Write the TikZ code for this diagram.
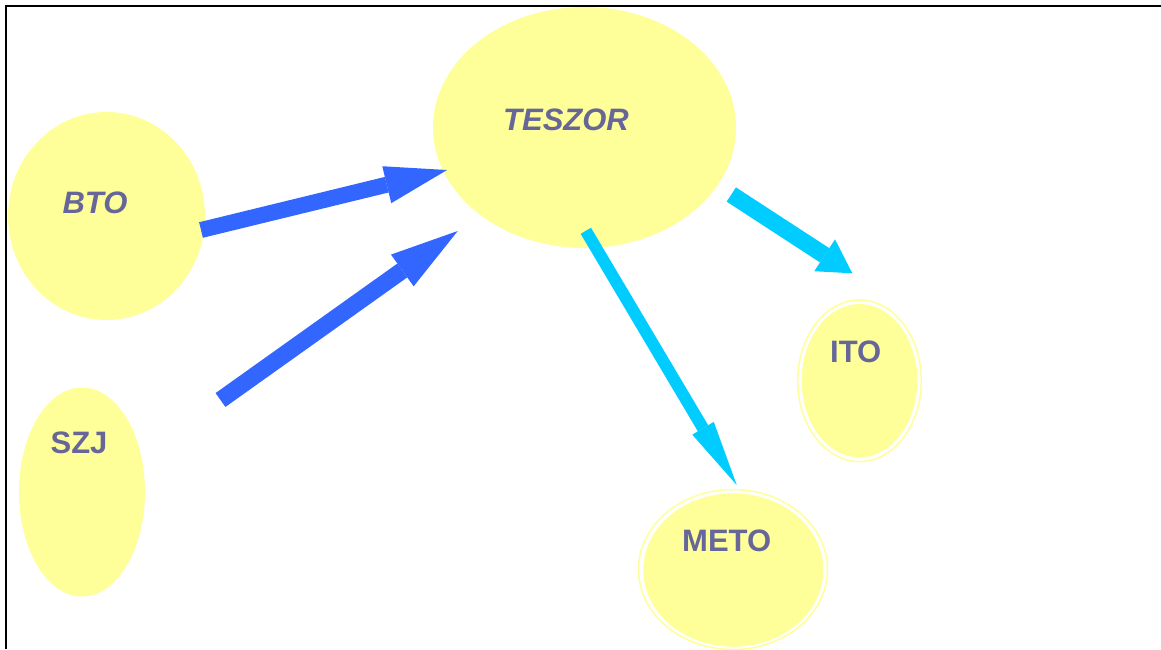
\documentclass[tikz,border=0pt]{standalone}
\usepackage{fontspec}
\setmainfont{Liberation Sans}
\usetikzlibrary{shapes.geometric,arrows.meta}
\definecolor{blobfill}{HTML}{FFFF99}
\definecolor{labtext}{HTML}{666699}
\definecolor{arrblue}{HTML}{3366FF}
\definecolor{arrcyan}{HTML}{00CCFF}
\tikzset{
  blob/.style={ellipse, fill=blobfill, inner sep=0pt, draw=none},
  ring/.style={ellipse, draw=blobfill, line width=1.5pt, inner sep=0pt, fill=none},
  lab/.style={inner sep=0pt, text=labtext, font=\fontsize{31}{31}\selectfont\bfseries},
  ilab/.style={lab, font=\fontsize{31}{31}\selectfont\bfseries\itshape},
  bluearr/.style={draw=arrblue, line width=#1},
  cyanarr/.style={draw=arrcyan, line width=#1},
}
\begin{document}
\begin{tikzpicture}[x=1pt,y=-1pt]
\useasboundingbox (0,0) rectangle (1161,649);
\fill[white] (0,0) rectangle (1161,649);
% frame (top and left edges only visible)
\draw[black, line width=2.2pt] (6,649) -- (6,6) -- (1161,6);

% ellipses
\node[blob, minimum width=303pt, minimum height=241pt] (teszor) at (584.5,127.5) {};
\node[blob, minimum width=197pt, minimum height=208pt] (bto) at (106.5,216) {};
\node[blob, minimum width=126pt, minimum height=209pt] (szj) at (82,492) {};
\node[ring, minimum width=123.6pt, minimum height=161.6pt] (itoring) at (859.5,380.8) {};
\node[blob, minimum width=115.6pt, minimum height=153.4pt] (ito) at (859.5,380.7) {};
\node[ring, minimum width=189pt, minimum height=160pt] (metoring) at (733,569.5) {};
\node[blob, minimum width=180pt, minimum height=153.4pt] (meto) at (733.3,570) {};

% labels
\node[ilab] (teszorT) at (566,120) {TESZOR};
\node[ilab] (btoT) at (95,203) {BTO};
\node[lab] (szjT) at (79,443) {SZJ};
\node[lab] (itoT) at (855.7,351.7) {ITO};
\node[lab] (metoT) at (726.7,541) {METO};

% arrow end points
\coordinate (b1s) at (201,230);
\coordinate (b1e) at (447,170);
\coordinate (b2s) at (220.5,400);
\coordinate (b2e) at (457.7,231);
\coordinate (c1s) at (731.3,194.5);
\coordinate (c1e) at (852.3,273.3);
\coordinate (c2s) at (585.8,230.8);
\coordinate (c2e) at (736.7,485);

% arrows
\draw[bluearr=16pt, -{Triangle[length=62pt,width=38pt,line width=0pt 0 0]}] (b1s) -- (b1e);
\draw[bluearr=17pt, -{Triangle[length=68pt,width=39pt,line width=0pt 0 0]}] (b2s) -- (b2e);
\draw[cyanarr=17pt, -{Triangle[length=33pt,width=38pt,line width=0pt 0 0]}] (c1s) -- (c1e);
\draw[cyanarr=12pt, -{Triangle[length=66pt,width=25pt,line width=0pt 0 0]}] (c2s) -- (c2e);
\end{tikzpicture}
\end{document}
